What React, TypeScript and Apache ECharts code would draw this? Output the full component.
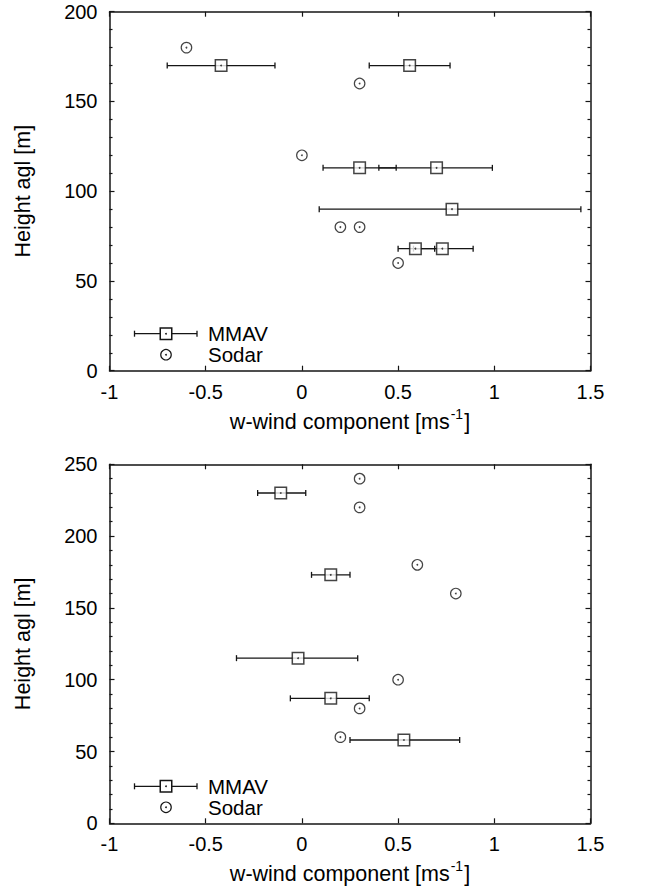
import React, { useEffect, useRef } from "react";
import * as echarts from "echarts";

// ---- Data ----
// Top panel
const topSodarW = [-0.6, 0.3, 0.0, 0.2, 0.3, 0.5];
const topSodarH = [180, 160, 120, 80, 80, 60];
const topMmavW = [-0.42, 0.56, 0.3, 0.7, 0.78, 0.59, 0.73];
const topMmavH = [170, 170, 113, 113, 90, 68, 68];
const topMmavLo = [-0.7, 0.35, 0.11, 0.4, 0.09, 0.5, 0.58];
const topMmavHi = [-0.14, 0.77, 0.49, 0.99, 1.45, 0.69, 0.89];
// Bottom panel
const botSodarW = [0.3, 0.3, 0.6, 0.8, 0.5, 0.3, 0.2];
const botSodarH = [240, 220, 180, 160, 100, 80, 60];
const botMmavW = [-0.11, 0.15, -0.02, 0.15, 0.53];
const botMmavH = [230, 173, 115, 87, 58];
const botMmavLo = [-0.23, 0.05, -0.34, -0.06, 0.25];
const botMmavHi = [0.02, 0.25, 0.29, 0.35, 0.82];

const xMin = -1;
const xMax = 1.5;
const xStep = 0.5;
const topYMax = 200;
const botYMax = 250;
const yStep = 50;

const xTitle = "{n|w-wind component [ms}{s|-1}{n|]}";
const yTitle = "Height agl [m]";
const legendNames = ["MMAV", "Sodar"];

const FONT = '"Liberation Sans", Arial, Helvetica, sans-serif';
const INK = "#151515";

const GRID_LEFT = 109.5;
const GRID_W = 481;
const GRID_H = 359;
const TOP_Y = 11.7;
const BOT_Y = 464.3;

function xAxes(gridIndex: number) {
  const base = {
    type: "value",
    gridIndex,
    min: xMin,
    max: xMax,
    interval: xStep,
    splitLine: { show: false },
    axisLine: { show: true, onZero: false, lineStyle: { color: INK, width: 1.5 } },
    axisTick: { show: true, inside: true, length: 5, lineStyle: { color: INK, width: 1.2 } },
  };
  return [
    {
      ...base,
      position: "bottom",
      axisLabel: { show: true, fontSize: 20, color: "#000", fontFamily: FONT, margin: 11 },
      name: xTitle,
      nameLocation: "middle",
      nameGap: 36,
      nameTextStyle: {
        fontFamily: FONT,
        color: "#000",
        rich: {
          n: { fontSize: 21.5, fontFamily: FONT, color: "#000", lineHeight: 26, verticalAlign: "bottom" },
          s: { fontSize: 14, fontFamily: FONT, color: "#000", lineHeight: 26, verticalAlign: "top", padding: [0, 1, 0, 1] },
        },
      },
    },
    { ...base, position: "top", axisLabel: { show: false } },
  ];
}

function yAxes(gridIndex: number, max: number) {
  const base = {
    type: "value",
    gridIndex,
    min: 0,
    max,
    interval: yStep,
    splitLine: { show: false },
    axisLine: { show: true, onZero: false, lineStyle: { color: INK, width: 1.5 } },
    axisTick: { show: true, inside: true, length: 5, lineStyle: { color: INK, width: 1.2 } },
    minorTick: { show: true, splitNumber: 5, length: 3, lineStyle: { color: INK, width: 1.2 } },
    minorSplitLine: { show: false },
  };
  return [
    {
      ...base,
      position: "left",
      axisLabel: { show: true, fontSize: 20, color: "#000", fontFamily: FONT, margin: 12 },
      name: yTitle,
      nameLocation: "middle",
      nameGap: 76,
      nameTextStyle: { fontSize: 21.5, fontFamily: FONT, color: "#000" },
    },
    { ...base, position: "right", axisLabel: { show: false } },
  ];
}

function errorBarItem(params: any, api: any) {
  const y = api.value(1);
  const lo = api.coord([api.value(2), y]);
  const hi = api.coord([api.value(3), y]);
  const st = { stroke: INK, lineWidth: 1.3 };
  const cap = 3;
  return {
    type: "group",
    children: [
      { type: "line", shape: { x1: lo[0], y1: lo[1], x2: hi[0], y2: hi[1] }, style: st },
      { type: "line", shape: { x1: lo[0], y1: lo[1] - cap, x2: lo[0], y2: lo[1] + cap }, style: st },
      { type: "line", shape: { x1: hi[0], y1: hi[1] - cap, x2: hi[0], y2: hi[1] + cap }, style: st },
    ],
  };
}

function panelSeries(
  xi: number,
  yi: number,
  mW: number[],
  mH: number[],
  mLo: number[],
  mHi: number[],
  sW: number[],
  sH: number[]
) {
  const mData = mW.map((w, i) => [w, mH[i], mLo[i], mHi[i]]);
  const sData = sW.map((w, i) => [w, sH[i]]);
  return [
    {
      type: "custom",
      name: legendNames[0] + " error",
      xAxisIndex: xi,
      yAxisIndex: yi,
      renderItem: errorBarItem,
      encode: { x: [0, 2, 3], y: 1 },
      data: mData,
      z: 2,
    },
    {
      type: "scatter",
      name: legendNames[0],
      xAxisIndex: xi,
      yAxisIndex: yi,
      symbol: "rect",
      symbolSize: 11.5,
      itemStyle: { color: "#fff", borderColor: INK, borderWidth: 1.5 },
      data: mData.map((d) => [d[0], d[1]]),
      z: 3,
    },
    {
      type: "scatter",
      name: legendNames[1],
      xAxisIndex: xi,
      yAxisIndex: yi,
      symbol: "circle",
      symbolSize: 10.5,
      itemStyle: { color: "#fff", borderColor: INK, borderWidth: 1.2 },
      data: sData,
      z: 3,
    },
    {
      type: "scatter",
      name: "dots",
      xAxisIndex: xi,
      yAxisIndex: yi,
      symbol: "circle",
      symbolSize: 1.8,
      itemStyle: { color: INK },
      data: [...sData, ...mData.map((d) => [d[0], d[1]])],
      z: 4,
    },
  ];
}

function legendGraphic(bottomY: number) {
  const y1 = bottomY - 37;
  const y2 = bottomY - 16;
  const x0 = 134.5;
  const x1 = 197;
  const cx = 166;
  const st = { stroke: INK, lineWidth: 1.3 };
  return [
    { type: "line", shape: { x1: x0, y1: y1, x2: x1, y2: y1 }, style: st, z: 10 },
    { type: "line", shape: { x1: x0, y1: y1 - 3, x2: x0, y2: y1 + 3 }, style: st, z: 10 },
    { type: "line", shape: { x1: x1, y1: y1 - 3, x2: x1, y2: y1 + 3 }, style: st, z: 10 },
    {
      type: "rect",
      shape: { x: cx - 5.75, y: y1 - 5.75, width: 11.5, height: 11.5 },
      style: { fill: "#fff", stroke: INK, lineWidth: 1.5 },
      z: 11,
    },
    { type: "circle", shape: { cx, cy: y1, r: 0.9 }, style: { fill: INK }, z: 12 },
    {
      type: "text",
      x: 208,
      y: y1,
      style: { text: legendNames[0], font: `20.5px ${FONT}`, fill: "#000", verticalAlign: "middle", align: "left" },
      z: 10,
    },
    {
      type: "circle",
      shape: { cx, cy: y2, r: 5.25 },
      style: { fill: "#fff", stroke: INK, lineWidth: 1.2 },
      z: 11,
    },
    { type: "circle", shape: { cx, cy: y2, r: 0.9 }, style: { fill: INK }, z: 12 },
    {
      type: "text",
      x: 208,
      y: y2,
      style: { text: legendNames[1], font: `20.5px ${FONT}`, fill: "#000", verticalAlign: "middle", align: "left" },
      z: 10,
    },
  ];
}

export default function App() {
  const ref = useRef<HTMLDivElement>(null);
  useEffect(() => {
    if (!ref.current) return;
    const chart = echarts.init(ref.current, undefined, { renderer: "svg" });
    const option: any = {
      animation: false,
      backgroundColor: "#fff",
      textStyle: { fontFamily: FONT },
      grid: [
        { left: GRID_LEFT, top: TOP_Y, width: GRID_W, height: GRID_H },
        { left: GRID_LEFT, top: BOT_Y, width: GRID_W, height: GRID_H },
      ],
      xAxis: [...xAxes(0), ...xAxes(1)],
      yAxis: [...yAxes(0, topYMax), ...yAxes(1, botYMax)],
      series: [
        ...panelSeries(0, 0, topMmavW, topMmavH, topMmavLo, topMmavHi, topSodarW, topSodarH),
        ...panelSeries(2, 2, botMmavW, botMmavH, botMmavLo, botMmavHi, botSodarW, botSodarH),
      ],
      graphic: [...legendGraphic(TOP_Y + GRID_H), ...legendGraphic(BOT_Y + GRID_H)],
    };
    chart.setOption(option);
    return () => chart.dispose();
  }, []);
  return (
    <div
      ref={ref}
      style={{ position: "fixed", left: 0, top: 0, width: 648, height: 894, background: "#fff" }}
    />
  );
}
